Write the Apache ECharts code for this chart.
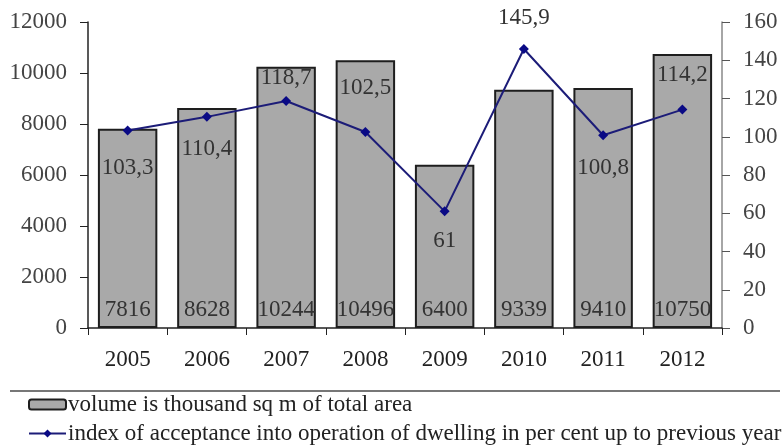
<!DOCTYPE html>
<html>
<head>
<meta charset="utf-8">
<script src="https://cdn.jsdelivr.net/npm/echarts@6/dist/echarts.min.js"></script>
<style>
  html, body { margin: 0; padding: 0; background: #fff; }
  #chart { width: 782px; height: 448px; }
</style>
</head>
<body>
<div id="chart"></div>
<script>
// Housing commissioned per year
const years = ['2005', '2006', '2007', '2008', '2009', '2010', '2011', '2012'];
const volume = [7816, 8628, 10244, 10496, 6400, 9339, 9410, 10750];
const indexPct = [103.3, 110.4, 118.7, 102.5, 61, 145.9, 100.8, 114.2];
const volumeName = 'volume is thousand sq m of total area';
const indexName = 'index of acceptance into operation of dwelling in per cent up to previous year';

// where each index label sits relative to its point
const indexLabelPlace = [
  ['bottom', 21], ['bottom', 16], ['top', 7], ['top', 28],
  ['bottom', 13], ['top', 15], ['bottom', 16], ['top', 18]
];

const serif = '"Liberation Serif", "Times New Roman", serif';
const fs = 23;

const chart = echarts.init(document.getElementById('chart'), null, { renderer: 'canvas' });

const indexData = indexPct.map((v, i) => ({
  value: v,
  label: { position: indexLabelPlace[i][0], distance: indexLabelPlace[i][1] }
}));

const plain = v => String(v);

chart.setOption({
  animation: false,
  backgroundColor: '#ffffff',
  textStyle: { fontFamily: serif },
  grid: { left: 88, right: 60, top: 22, bottom: 120, containLabel: false },
  legend: {
    orient: 'vertical',
    left: 28,
    top: 393,
    padding: 0,
    itemWidth: 37,
    itemHeight: 10,
    itemGap: 6,
    textStyle: { fontFamily: serif, fontSize: 23, lineHeight: 23, color: '#222', padding: [0, 0, 0, -3] },
    data: [volumeName, indexName]
  },
  graphic: [{
    type: 'line',
    shape: { x1: 10, y1: 391, x2: 780, y2: 391 },
    style: { stroke: '#777', lineWidth: 2 }
  }],
  xAxis: {
    type: 'category',
    data: years,
    axisLine: { lineStyle: { color: '#222', width: 1.5 } },
    axisTick: { show: true, length: 7, alignWithLabel: false, lineStyle: { color: '#222' } },
    axisLabel: { fontFamily: serif, fontSize: fs, color: '#222', margin: 20 }
  },
  yAxis: [{
    type: 'value',
    min: 0, max: 12000, interval: 2000,
    axisLine: { show: true, lineStyle: { color: '#222', width: 1.5 } },
    axisTick: { show: true, length: 8, lineStyle: { color: '#222' } },
    splitLine: { show: false },
    axisLabel: { fontFamily: serif, fontSize: fs, color: '#444', margin: 21, formatter: plain }
  }, {
    type: 'value',
    min: 0, max: 160, interval: 20,
    position: 'right',
    axisLine: { show: true, lineStyle: { color: '#888', width: 1.5 } },
    axisTick: { show: true, length: 8, lineStyle: { color: '#555' } },
    splitLine: { show: false },
    axisLabel: { fontFamily: serif, fontSize: fs, color: '#444', margin: 21, formatter: plain }
  }],
  series: [{
    name: volumeName,
    type: 'bar',
    data: volume,
    barCategoryGap: '25%',
    itemStyle: { color: '#a9a9a9', borderColor: '#1e1e1e', borderWidth: 2 },
    label: {
      show: true, position: 'insideBottom', distance: 7,
      fontFamily: serif, fontSize: fs, color: '#333'
    }
  }, {
    name: indexName,
    type: 'line',
    yAxisIndex: 1,
    data: indexData,
    symbol: 'diamond',
    symbolSize: 10,
    lineStyle: { color: '#1c1c78', width: 2 },
    itemStyle: { color: '#0a0a85' },
    label: {
      show: true,
      fontFamily: serif, fontSize: fs, color: '#333',
      formatter: p => String(p.value).replace('.', ',')
    }
  }]
});
</script>
</body>
</html>
